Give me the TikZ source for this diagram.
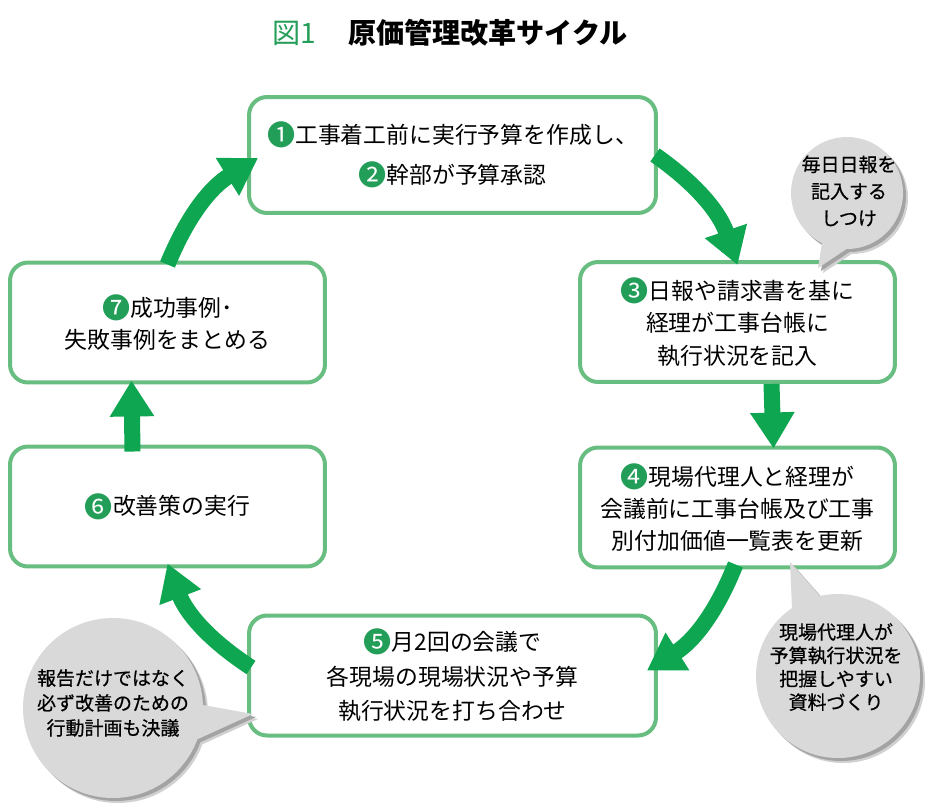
\documentclass[tikz,border=0pt]{standalone}
\usepackage{fontspec}
\setmainfont{Noto Sans CJK JP}
\newfontfamily\notefont{Noto Sans CJK JP}[FakeBold=0.6]
\usepackage{xcolor}
\usetikzlibrary{arrows.meta, backgrounds}

\definecolor{boxgreen}{RGB}{104,189,128}
\definecolor{arrowgreen}{RGB}{14,166,80}
\definecolor{numgreen}{RGB}{35,158,88}
\definecolor{bubblegray}{RGB}{217,217,217}

\newcommand{\stepnum}[1]{\raisebox{-0.1em}{\textcolor{numgreen}{\fontsize{16}{16}\selectfont #1}}}

\begin{document}
\begin{tikzpicture}[x=0.02cm,y=-0.02cm,
  box/.style={draw=boxgreen,line width=0.08cm,rounded corners=0.36cm,minimum width=6.3cm,minimum height=2.4cm,align=center,inner sep=0pt,font=\fontsize{13}{18.5}\selectfont},
  widebox/.style={box,minimum width=8.14cm},
  bigarrow/.style={draw=arrowgreen,line width=0.32cm,-{Triangle[width=0.84cm,length=0.72cm]}},
  note/.style={align=center,inner sep=0pt},
  background rectangle/.style={fill=white},show background rectangle]

\useasboundingbox (0,0) rectangle (939,808);

% Title
\node[font=\fontsize{16}{16}\selectfont] (title) at (450,33) {\textcolor{numgreen}{図1}\hspace{1.15em}\textbf{原価管理改革サイクル}};

% The seven steps of the cycle
\node[widebox,minimum height=2.32cm,font=\fontsize{13}{22.7}\selectfont] (b1) at (452.5,155) {\stepnum{❶}工事着工前に実行予算を作成し、\\\stepnum{❷}幹部が予算承認};
\node[box] (b3) at (737.5,322) {\stepnum{❸}日報や請求書を基に\\経理が工事台帳に\\執行状況を記入};
\node[box,font=\fontsize{13}{18.1}\selectfont] (b4) at (737.5,507.5) {\stepnum{❹}現場代理人と経理が\\会議前に工事台帳及び工事\\別付加価値一覧表を更新};
\node[widebox,font=\fontsize{13}{19.8}\selectfont] (b5) at (452.5,675.5) {\stepnum{❺}月2回の会議で\\各現場の現場状況や予算\\執行状況を打ち合わせ};
\node[box] (b6) at (167.5,506.5) {\stepnum{❻}改善策の実行};
\node[box] (b7) at (167.5,322.5) {\stepnum{❼}成功事例･\\失敗事例をまとめる};

% Arrows between the steps
\draw[bigarrow] ([shift={(-3,0)}]b1.east) to[bend left=18] ([shift={(0,5)}]b3.north);
\draw[bigarrow] ([shift={(34,0)}]b3.south) -- ([shift={(36,3)}]b4.north);
\draw[bigarrow] ([shift={(-2,-5)}]b4.south) to[bend left=18] ([shift={(-11,-5)}]b5.east);
\draw[bigarrow] ([shift={(4,-8)}]b5.west) to[bend left=18] ([shift={(0,-5)}]b6.south);
\draw[bigarrow] ([shift={(-35,7)}]b6.north) -- ([shift={(-36,-4)}]b7.south);
\draw[bigarrow] ([shift={(0,4)}]b7.north) to[bend left=18] ([shift={(11,3)}]b1.west);

% Speech bubbles: shadow layers first, then the bubbles
\foreach \dx/\shade in {5/18,3/36}
  \foreach \cx/\cy/\r/\ax/\ay/\tx/\ty/\bx/\by in {847/193/56/822/243/818/268/848/248,
      838/676/82/792/608/790/562/820/596,
      113/708/90/203/705/253/714/198/739} {
    \fill[black!\shade] (\cx+\dx,\cy+\dx) circle (\r);
    \fill[black!\shade] (\cx+\dx,\cy+\dx) -- (\ax+\dx,\ay+\dx) -- (\tx+\dx,\ty+\dx) -- (\bx+\dx,\by+\dx) -- cycle;
  }
\foreach \cx/\cy/\r/\ax/\ay/\tx/\ty/\bx/\by in {847/193/56/822/243/818/268/848/248,
    838/676/82/792/608/790/562/820/596,
    113/708/90/203/705/253/714/198/739} {
  \fill[bubblegray] (\cx,\cy) circle (\r);
  \fill[bubblegray] (\cx,\cy) -- (\ax,\ay) -- (\tx,\ty) -- (\bx,\by) -- cycle;
}

\node[note,font=\notefont\fontsize{10.8}{15.3}\selectfont] (n1) at (849,191) {毎日日報を\\記入する\\しつけ};
\node[note,font=\notefont\fontsize{10.8}{13.3}\selectfont] (n2) at (836,667) {現場代理人が\\予算執行状況を\\把握しやすい\\資料づくり};
\node[note,font=\notefont\fontsize{10.8}{14.2}\selectfont] (n3) at (113,703) {報告だけではなく\\必ず改善のための\\行動計画も決議};

\end{tikzpicture}
\end{document}
